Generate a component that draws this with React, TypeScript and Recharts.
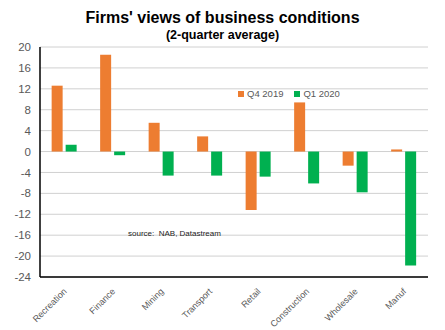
import { BarChart, Bar, XAxis, YAxis, CartesianGrid } from 'recharts'

const sectors = ['Recreation', 'Finance', 'Mining', 'Transport', 'Retail', 'Construction', 'Wholesale', 'Manuf']
const q4_2019 = [12.6, 18.5, 5.5, 2.9, -11.2, 9.4, -2.7, 0.4]
const q1_2020 = [1.3, -0.7, -4.6, -4.6, -4.8, -6.1, -7.8, -21.8]
const yTicks = [20, 16, 12, 8, 4, 0, -4, -8, -12, -16, -20, -24]

const data = sectors.map((name, i) => ({ name, q4: q4_2019[i], q1: q1_2020[i] }))

const font = '"Liberation Sans", Arial, sans-serif'

const RotatedTick = ({ x, y, payload }: any) => (
  <text
    x={x + 3}
    y={y + 7}
    textAnchor="end"
    fontSize={9}
    fill="#595959"
    fontFamily={font}
    transform={`rotate(-45, ${x + 3}, ${y + 7})`}
  >
    {payload.value}
  </text>
)

export default function App() {
  return (
    <div style={{ position: 'absolute', left: 0, top: 0, width: 445, height: 330, background: '#fff', fontFamily: font }}>
      <div style={{ position: 'absolute', top: 9, left: 0, width: 445, textAlign: 'center', fontWeight: 'bold', fontSize: 16, color: '#000' }}>
        Firms' views of business conditions
      </div>
      <div style={{ position: 'absolute', top: 28, left: 0, width: 445, textAlign: 'center', fontWeight: 'bold', fontSize: 12.5, color: '#000' }}>
        (2-quarter average)
      </div>
      <BarChart
        width={445}
        height={330}
        data={data}
        margin={{ top: 47, right: 17, bottom: 0, left: 0 }}
        barCategoryGap="24%"
        barGap={3}
      >
        <CartesianGrid vertical={false} stroke="#d0d0d0" />
        <XAxis
          dataKey="name"
          tick={<RotatedTick />}
          tickLine={false}
          axisLine={{ stroke: '#000', strokeWidth: 1.5 }}
          interval={0}
          height={53}
        />
        <XAxis xAxisId="top" dataKey="name" orientation="top" tick={false} tickLine={false} axisLine={{ stroke: '#000', strokeWidth: 1.5 }} height={0} />
        <YAxis
          domain={[-24, 20]}
          ticks={yTicks}
          tickLine={false}
          tickMargin={3}
          axisLine={{ stroke: '#000', strokeWidth: 1.5 }}
          tick={{ fontSize: 11.5, fill: '#595959', fontFamily: font }}
          width={40}
          interval={0}
        />
        <YAxis yAxisId="right" orientation="right" domain={[-24, 20]} tick={false} tickLine={false} axisLine={{ stroke: '#000', strokeWidth: 1.5 }} width={0} />
        <Bar dataKey="q4" name="Q4 2019" fill="#ED7D31" isAnimationActive={false} />
        <Bar dataKey="q1" name="Q1 2020" fill="#00B050" isAnimationActive={false} />
      </BarChart>
      <div style={{ position: 'absolute', left: 238, top: 88, display: 'flex', gap: 11, fontSize: 9.5, color: '#595959', fontFamily: font }}>
        <span style={{ display: 'flex', alignItems: 'center', gap: 3 }}>
          <span style={{ width: 6, height: 6, background: '#ED7D31', display: 'inline-block' }}></span>Q4 2019
        </span>
        <span style={{ display: 'flex', alignItems: 'center', gap: 3 }}>
          <span style={{ width: 6, height: 6, background: '#00B050', display: 'inline-block' }}></span>Q1 2020
        </span>
      </div>
      <div style={{ position: 'absolute', left: 128, top: 229, fontSize: 8, color: '#222', fontFamily: font, whiteSpace: 'pre' }}>
        source:  NAB, Datastream
      </div>
    </div>
  )
}
